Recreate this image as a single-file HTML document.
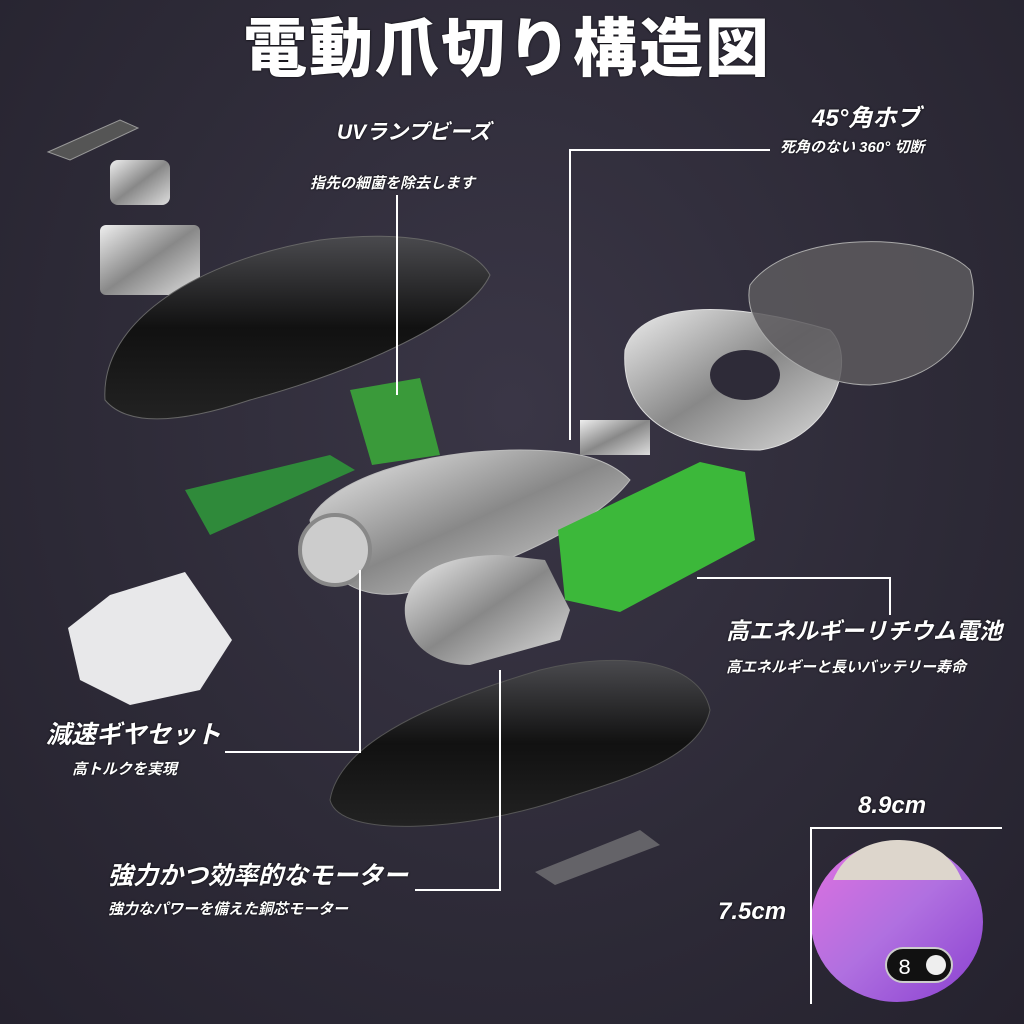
<!DOCTYPE html>
<html><head><meta charset="utf-8"><style>
html,body{margin:0;padding:0}
body{width:1024px;height:1024px;overflow:hidden;background:radial-gradient(ellipse at 50% 40%,#3a3646 0%,#2e2b38 55%,#25222e 100%);font-family:"Liberation Sans","Noto Sans CJK JP",sans-serif;color:#fff;position:relative}
.t{position:absolute;font-weight:bold;font-style:italic;white-space:nowrap;color:#fff;text-shadow:0 0 2px #000}
</style></head><body>
<svg width="1024" height="1024" style="position:absolute;left:0;top:0">
<defs>
<linearGradient id="blk" x1="0" y1="0" x2="0" y2="1"><stop offset="0" stop-color="#4a4a4e"/><stop offset=".5" stop-color="#111"/><stop offset="1" stop-color="#222"/></linearGradient>
<linearGradient id="met" x1="0" y1="0" x2="1" y2="1"><stop offset="0" stop-color="#eee"/><stop offset=".5" stop-color="#888"/><stop offset="1" stop-color="#ddd"/></linearGradient>
<linearGradient id="pur" x1="0" y1="0" x2="1" y2="1"><stop offset="0" stop-color="#e070e0"/><stop offset=".5" stop-color="#b070e0"/><stop offset="1" stop-color="#8a40d0"/></linearGradient>
</defs>
<polygon points="48,152 120,120 138,128 70,160" fill="#555" stroke="#999"/>
<rect x="110" y="160" width="60" height="45" rx="8" fill="url(#met)"/>
<rect x="100" y="225" width="100" height="70" rx="6" fill="url(#met)"/>
<path d="M105,400 C100,320 200,260 320,240 C400,230 470,240 490,275 C470,320 360,370 250,400 C190,420 130,430 105,400Z" fill="url(#blk)" stroke="#666"/>
<polygon points="350,390 420,378 440,455 372,465" fill="#3a9a3a"/>
<polygon points="185,490 330,455 355,470 210,535" fill="#2f8a3a"/>
<path d="M310,520 C330,480 420,450 520,450 C580,450 610,460 630,480 C600,520 520,560 420,590 C360,605 320,580 310,520Z" fill="url(#met)" stroke="#bbb"/>
<circle cx="335" cy="550" r="35" fill="#ccc" stroke="#888" stroke-width="4"/>
<rect x="580" y="420" width="70" height="35" fill="url(#met)"/>
<path d="M625,350 C640,300 730,300 830,330 C860,360 830,440 760,450 C680,450 620,420 625,350Z" fill="url(#met)" stroke="#ddd"/>
<ellipse cx="745" cy="375" rx="35" ry="25" fill="#2e2b38"/>
<path d="M750,285 C790,230 930,230 970,270 C985,320 950,380 870,385 C800,385 740,330 750,285Z" fill="#5d5a5e" fill-opacity=".85" stroke="#aaa"/>
<polygon points="558,530 700,462 745,472 755,540 620,612 565,600" fill="#3cb83a"/>
<path d="M405,605 C410,570 450,555 500,555 L545,560 L570,610 L560,640 L470,665 C430,665 402,640 405,605Z" fill="url(#met)"/>
<path d="M68,628 L110,595 L185,572 L232,640 L200,690 L130,705 L80,680Z" fill="#e8e8ea"/>
<path d="M330,800 C340,740 440,700 540,670 C620,650 700,660 710,710 C700,760 620,780 560,800 C470,830 340,840 330,800Z" fill="url(#blk)" stroke="#555"/>
<polygon points="535,872 640,830 660,845 555,885" fill="#888" fill-opacity=".6"/>
<!-- size device -->
<ellipse cx="897" cy="922" rx="86" ry="80" fill="url(#pur)"/>
<path d="M833,880 C845,850 875,840 897,840 C925,840 950,850 962,880Z" fill="#ddd6cc"/>
<rect x="886" y="948" width="66" height="34" rx="17" fill="#111" stroke="#ccc" stroke-width="2"/>
<text x="898" y="974" font-family="Liberation Mono" font-size="22" fill="#fff">8</text>
<circle cx="936" cy="965" r="10" fill="#eee"/>
<g stroke="#fff" stroke-width="2" fill="none">
<path d="M397,195 V395"/>
<path d="M770,150 H570 V440"/>
<path d="M697,578 H890 V615"/>
<path d="M225,752 H360 V570"/>
<path d="M415,890 H500 V670"/>
<path d="M811,1004 V828 H1002"/>
</g>
</svg>
<div class="t" style="left:243px;top:-2px;font-size:64px;font-style:normal;font-weight:900;letter-spacing:2px;">電動爪切り構造図</div>
<div class="t" style="left:337px;top:116px;font-size:21px;">UVランプビーズ</div>
<div class="t" style="left:310px;top:172px;font-size:15px;">指先の細菌を除去します</div>
<div class="t" style="left:812px;top:98px;font-size:24px;">45°角ホブ</div>
<div class="t" style="left:780px;top:136px;font-size:15px;">死角のない 360° 切断</div>
<div class="t" style="left:726px;top:612px;font-size:23px;">高エネルギーリチウム電池</div>
<div class="t" style="left:726px;top:656px;font-size:15px;">高エネルギーと長いバッテリー寿命</div>
<div class="t" style="left:46px;top:715px;font-size:25px;">減速ギヤセット</div>
<div class="t" style="left:72px;top:758px;font-size:15px;">高トルクを実現</div>
<div class="t" style="left:108px;top:856px;font-size:25px;">強力かつ効率的なモーター</div>
<div class="t" style="left:108px;top:898px;font-size:15px;">強力なパワーを備えた銅芯モーター</div>
<div class="t" style="left:858px;top:792px;font-size:24px;">8.9cm</div>
<div class="t" style="left:718px;top:898px;font-size:24px;">7.5cm</div>
</body></html>
